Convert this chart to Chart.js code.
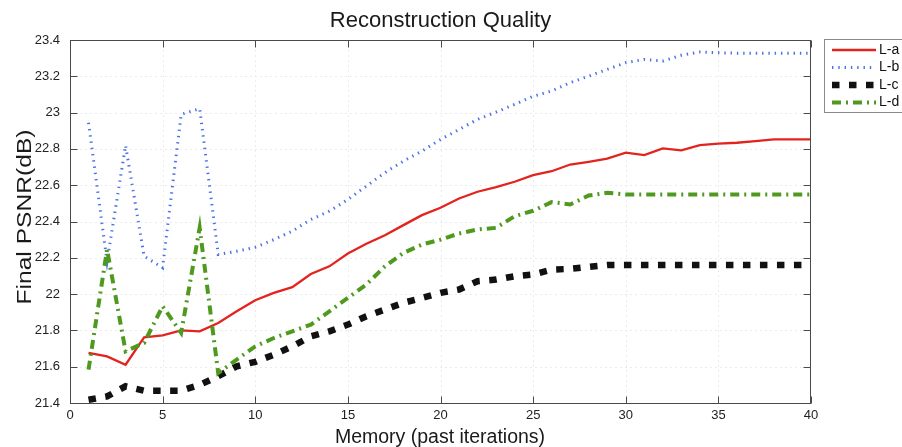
<!DOCTYPE html>
<html>
<head>
<meta charset="utf-8">
<script src="https://cdn.jsdelivr.net/npm/chart.js@4.4.0/dist/chart.umd.min.js"></script>
<style>
  html, body { margin: 0; padding: 0; background: #fff; overflow: hidden; }
  #wrap { width: 902px; height: 447px; }
</style>
</head>
<body>
<div id="wrap"><canvas id="c" width="902" height="447"></canvas></div>
<script>
// Memory size (past iterations) on the x axis
const memory = [1, 2, 3, 4, 5, 6, 7, 8, 9, 10, 11, 12, 13, 14, 15, 16, 17, 18, 19, 20,
                21, 22, 23, 24, 25, 26, 27, 28, 29, 30, 31, 32, 33, 34, 35, 36, 37, 38, 39, 40];

// Final PSNR (dB) per method
const psnrA = [21.676, 21.657, 21.611, 21.762, 21.773, 21.800, 21.795, 21.841, 21.905, 21.966,
               22.007, 22.038, 22.111, 22.153, 22.224, 22.277, 22.324, 22.380, 22.435, 22.476,
               22.527, 22.564, 22.589, 22.619, 22.655, 22.677, 22.714, 22.729, 22.746, 22.779,
               22.766, 22.803, 22.792, 22.821, 22.829, 22.834, 22.843, 22.852, 22.852, 22.852];
const psnrB = [22.944, 22.180, 22.819, 22.209, 22.145, 22.990, 23.022, 22.218, 22.236, 22.258,
               22.300, 22.347, 22.411, 22.457, 22.521, 22.595, 22.669, 22.733, 22.788, 22.852,
               22.907, 22.963, 23.003, 23.045, 23.090, 23.119, 23.165, 23.201, 23.238, 23.275,
               23.293, 23.284, 23.316, 23.334, 23.330, 23.327, 23.327, 23.327, 23.327, 23.327];
const psnrC = [21.418, 21.436, 21.492, 21.468, 21.468, 21.468, 21.500, 21.547, 21.602, 21.627,
               21.666, 21.712, 21.767, 21.795, 21.832, 21.878, 21.915, 21.952, 21.979, 22.007,
               22.025, 22.071, 22.080, 22.098, 22.108, 22.135, 22.139, 22.150, 22.161, 22.161,
               22.161, 22.161, 22.161, 22.161, 22.161, 22.161, 22.161, 22.161, 22.161, 22.161];
const psnrD = [21.584, 22.246, 21.685, 21.731, 21.933, 21.786, 22.365, 21.565, 21.639, 21.712,
               21.758, 21.795, 21.832, 21.905, 21.979, 22.053, 22.153, 22.227, 22.273, 22.300,
               22.334, 22.356, 22.365, 22.429, 22.459, 22.507, 22.494, 22.543, 22.558, 22.549,
               22.549, 22.549, 22.549, 22.549, 22.549, 22.549, 22.549, 22.549, 22.549, 22.549];

const seriesNames = ['L-a', 'L-b', 'L-c', 'L-d'];

const FONT = '"Liberation Sans", Arial, Helvetica, sans-serif';

const styles = [
  { color: '#e3231e', width: 2.3, dash: [] },
  { color: '#4a72e6', width: 3, dash: [1.4, 4.9] },
  { color: '#111111', width: 6.5, dash: [7.5, 9.5] },
  { color: '#4f9a1e', width: 4, dash: [9, 5, 2, 5] }
];

const toPoints = vals => memory.map((m, i) => ({ x: m, y: vals[i] }));

const datasets = [psnrA, psnrB, psnrC, psnrD].map((vals, i) => ({
  label: seriesNames[i],
  data: toPoints(vals),
  borderColor: styles[i].color,
  borderWidth: styles[i].width,
  borderDash: styles[i].dash,
  borderCapStyle: 'butt',
  borderJoinStyle: 'miter',
  pointRadius: 0,
  tension: 0,
  fill: false,
  clip: false,
  order: 3 - i
}));

function strokeLine(ctx, x1, y1, x2, y2) {
  ctx.beginPath();
  ctx.moveTo(x1, y1);
  ctx.lineTo(x2, y2);
  ctx.stroke();
}

// Axes box, inward ticks, faint dotted grid, titles and legend
const decorations = {
  id: 'decorations',
  beforeDatasetsDraw(chart) {
    const { ctx, chartArea: a, scales: { x, y } } = chart;
    ctx.save();
    ctx.strokeStyle = '#ebebeb';
    ctx.lineWidth = 1;
    ctx.setLineDash([2, 3]);
    x.ticks.forEach(t => {
      const px = Math.round(x.getPixelForValue(t.value)) + 0.5;
      if (px <= a.left + 1 || px >= a.right - 1) return;
      strokeLine(ctx, px, a.top, px, a.bottom);
    });
    y.ticks.forEach(t => {
      const py = Math.round(y.getPixelForValue(t.value)) + 0.5;
      if (py <= a.top + 1 || py >= a.bottom - 1) return;
      strokeLine(ctx, a.left, py, a.right, py);
    });
    ctx.restore();
  },
  afterDatasetsDraw(chart) {
    const { ctx, chartArea: a, scales: { x, y } } = chart;
    const L = a.left + 0.5, R = a.right - 0.5, T = a.top + 0.5, B = a.bottom + 0.5;
    const tick = 7;
    ctx.save();
    ctx.strokeStyle = '#4a4a4a';
    ctx.lineWidth = 1;
    ctx.setLineDash([]);
    ctx.strokeRect(L, T, R - L, B - T);
    x.ticks.forEach(t => {
      const px = Math.round(x.getPixelForValue(t.value)) + 0.5;
      strokeLine(ctx, px, B, px, B - tick);
      strokeLine(ctx, px, T, px, T + tick);
    });
    y.ticks.forEach(t => {
      const py = Math.round(y.getPixelForValue(t.value)) + 0.5;
      strokeLine(ctx, L, py, L + tick, py);
      strokeLine(ctx, R, py, R - tick, py);
    });
    ctx.restore();
  },
  afterDraw(chart) {
    const { ctx } = chart;
    ctx.save();
    ctx.fillStyle = '#1a1a1a';

    // Title
    ctx.font = '22px ' + FONT;
    ctx.textAlign = 'center';
    ctx.textBaseline = 'alphabetic';
    ctx.fillText('Reconstruction Quality', 440.5, 27);

    // X axis title
    ctx.font = '19.5px ' + FONT;
    ctx.fillText('Memory (past iterations)', 440, 443);

    // Y axis title (rotated, stretched along its length)
    const yTitle = 'Final PSNR(dB)';
    ctx.save();
    ctx.translate(31, 217);
    ctx.rotate(-Math.PI / 2);
    ctx.font = '19.5px ' + FONT;
    const w = ctx.measureText(yTitle).width;
    ctx.scale(175 / w, 1);
    ctx.textAlign = 'center';
    ctx.fillText(yTitle, 0, 0);
    ctx.restore();

    // Legend
    ctx.strokeStyle = '#8a8a8a';
    ctx.lineWidth = 1;
    ctx.strokeRect(824.5, 39.5, 100, 73);
    const rows = [50, 67.5, 85, 102.5];
    datasets.forEach((ds, i) => {
      const ry = rows[i];
      ctx.save();
      ctx.strokeStyle = ds.borderColor;
      ctx.lineWidth = ds.borderWidth;
      ctx.lineCap = 'butt';
      ctx.setLineDash(ds.borderDash);
      strokeLine(ctx, 832, ry, 876, ry);
      ctx.restore();
      ctx.font = '14px ' + FONT;
      ctx.textAlign = 'left';
      ctx.textBaseline = 'middle';
      ctx.fillStyle = '#111';
      ctx.fillText(ds.label, 879, ry);
    });
    ctx.restore();
  }
};

new Chart(document.getElementById('c'), {
  type: 'line',
  data: { datasets },
  options: {
    responsive: false,
    animation: false,
    devicePixelRatio: 1,
    layout: { padding: { left: 0, right: 91, top: 40, bottom: 0 } },
    plugins: {
      legend: { display: false },
      tooltip: { enabled: false },
      title: { display: false }
    },
    scales: {
      x: {
        type: 'linear',
        min: 0,
        max: 40,
        ticks: {
          stepSize: 5,
          color: '#222',
          font: { family: FONT, size: 13 },
          padding: 5,
          maxRotation: 0
        },
        grid: { display: false, drawTicks: false },
        border: { display: false },
        afterFit(scale) { scale.height = 44; }
      },
      y: {
        type: 'linear',
        min: 21.4,
        max: 23.4,
        ticks: {
          stepSize: 0.2,
          color: '#222',
          font: { family: FONT, size: 13 },
          padding: 10,
          callback: v => String(Number(v.toFixed(1)))
        },
        grid: { display: false, drawTicks: false },
        border: { display: false },
        afterFit(scale) { scale.width = 70; }
      }
    }
  },
  plugins: [decorations]
});
</script>
</body>
</html>
